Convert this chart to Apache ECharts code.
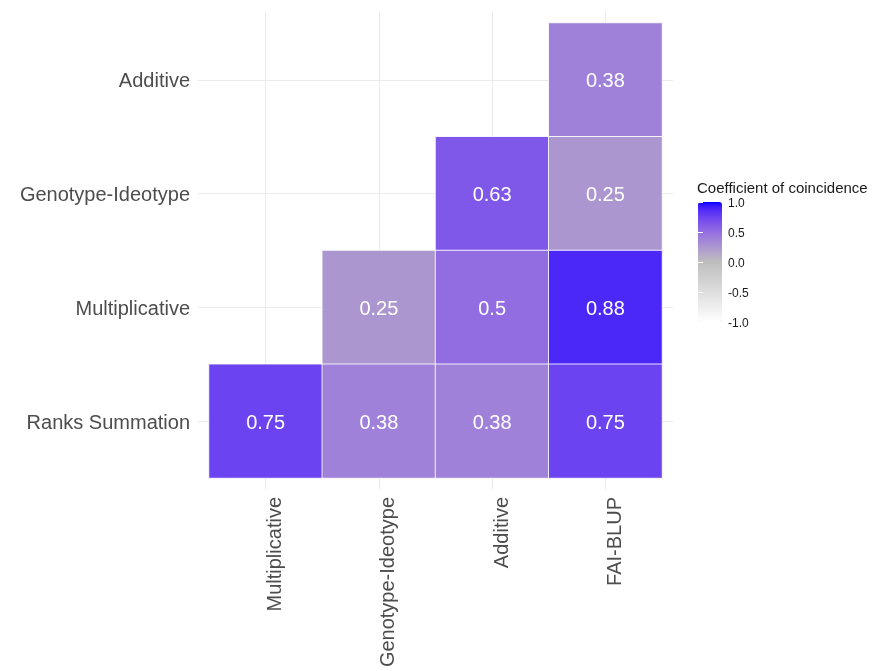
<!DOCTYPE html>
<html>
<head>
<meta charset="utf-8">
<title>Coefficient of coincidence</title>
<script src="https://cdn.jsdelivr.net/npm/echarts@6/dist/echarts.min.js"></script>
<style>
  html, body { margin: 0; padding: 0; background: #ffffff; }
  #chart { width: 882px; height: 671px; }
</style>
</head>
<body>
<div id="chart"></div>
<script>
// Selection indices compared pairwise
const colCategories = ['Multiplicative', 'Genotype-Ideotype', 'Additive', 'FAI-BLUP'];
const rowCategories = ['Additive', 'Genotype-Ideotype', 'Multiplicative', 'Ranks Summation']; // top to bottom

// Coefficient of coincidence, one list per row (null = lower triangle left empty)
const rowAdditive        = [null, null, null, 0.38];
const rowGenotypeIdeo    = [null, null, 0.63, 0.25];
const rowMultiplicative  = [null, 0.25, 0.5, 0.88];
const rowRanksSummation  = [0.75, 0.38, 0.38, 0.75];
const rowValues = [rowAdditive, rowGenotypeIdeo, rowMultiplicative, rowRanksSummation];

// Colour-bar breaks
const legendBreaks = [-1, -0.5, 0, 0.5, 1];

// Build heatmap triples [colIndex, rowIndex, value]
const heatData = [];
rowValues.forEach((row, r) => {
  row.forEach((v, c) => {
    if (v !== null) heatData.push([c, r, v]);
  });
});

// Diverging palette white -> grey -> blue, interpolated in CIE Lab
function hexToRgb(h) { h = h.replace('#', ''); return [0, 2, 4].map(i => parseInt(h.substr(i, 2), 16)); }
function srgbToLin(c) { c /= 255; return c <= 0.04045 ? c / 12.92 : Math.pow((c + 0.055) / 1.055, 2.4); }
function linToSrgb(c) { c = c <= 0.0031308 ? 12.92 * c : 1.055 * Math.pow(c, 1 / 2.4) - 0.055; return Math.round(Math.min(1, Math.max(0, c)) * 255); }
const WP = [0.95047, 1, 1.08883];
function rgbToLab(rgb) {
  const [r, g, b] = rgb.map(srgbToLin);
  const x = (0.4124 * r + 0.3576 * g + 0.1805 * b) / WP[0];
  const y = (0.2126 * r + 0.7152 * g + 0.0722 * b) / WP[1];
  const z = (0.0193 * r + 0.1192 * g + 0.9505 * b) / WP[2];
  const f = t => t > 0.008856 ? Math.cbrt(t) : 7.787 * t + 16 / 116;
  const fx = f(x), fy = f(y), fz = f(z);
  return [116 * fy - 16, 500 * (fx - fy), 200 * (fy - fz)];
}
function labToHex(lab) {
  const fy = (lab[0] + 16) / 116, fx = fy + lab[1] / 500, fz = fy - lab[2] / 200;
  const fi = t => t * t * t > 0.008856 ? t * t * t : (t - 16 / 116) / 7.787;
  const x = fi(fx) * WP[0], y = fi(fy) * WP[1], z = fi(fz) * WP[2];
  const r = 3.2406 * x - 1.5372 * y - 0.4986 * z;
  const g = -0.9689 * x + 1.8758 * y + 0.0415 * z;
  const b = 0.0557 * x - 0.2040 * y + 1.0570 * z;
  return '#' + [r, g, b].map(linToSrgb).map(v => v.toString(16).padStart(2, '0')).join('');
}
function divergingStops(low, mid, high, n) {
  const L = rgbToLab(hexToRgb(low)), M = rgbToLab(hexToRgb(mid)), H = rgbToLab(hexToRgb(high));
  const out = [];
  for (let i = 0; i <= n; i++) {
    const t = -1 + 2 * i / n;
    const a = t < 0 ? L : M, b = t < 0 ? M : H, u = t < 0 ? t + 1 : t;
    out.push(labToHex([0, 1, 2].map(k => a[k] + (b[k] - a[k]) * u)));
  }
  return out;
}
const palette = divergingStops('#ffffff', '#bebebe', '#0000ff', 40);

// Layout of the tile area and its padded panel
const tileLeft = 209, tileTop = 23, tileWidth = 453, tileHeight = 455;
const padX = tileWidth / colCategories.length * 0.1;
const padY = tileHeight / rowCategories.length * 0.1;
const barLeft = 698, barTop = 202, barWidth = 24, barHeight = 120;

const FONT = "'Liberation Sans', Arial, sans-serif";
const AXIS_TEXT = '#4d4d4d';
const GRID_LINE = '#ebebeb';

const chart = echarts.init(document.getElementById('chart'), null, { renderer: 'canvas' });

chart.setOption({
  backgroundColor: '#ffffff',
  animation: false,
  textStyle: { fontFamily: FONT },
  title: {
    text: 'Coefficient of coincidence',
    left: barLeft - 1,
    top: 181,
    padding: 0,
    textStyle: { fontSize: 15, fontWeight: 'normal', color: '#1a1a1a', fontFamily: FONT }
  },
  grid: [
    // tiles
    { left: tileLeft, top: tileTop, width: tileWidth, height: tileHeight, containLabel: false },
    // panel background with grid lines at category centres
    { left: tileLeft - padX, top: tileTop - padY, width: tileWidth + 2 * padX, height: tileHeight + 2 * padY, containLabel: false },
    // colour-bar scale
    { left: barLeft, top: barTop, width: barWidth, height: barHeight, containLabel: false }
  ],
  xAxis: [
    {
      gridIndex: 0, type: 'category', data: colCategories, position: 'bottom',
      axisLine: { show: false }, axisTick: { show: false }, splitLine: { show: false },
      axisLabel: { rotate: 90, margin: 19, fontSize: 20, color: AXIS_TEXT, fontFamily: FONT, verticalAlign: 'top' }
    },
    {
      gridIndex: 1, type: 'value', min: 0.4, max: 4.6, splitNumber: 4,
      axisLine: { show: false }, axisTick: { show: false }, axisLabel: { show: false },
      splitLine: { show: true, showMinLine: false, showMaxLine: false, lineStyle: { color: GRID_LINE, width: 1 } }
    },
    { gridIndex: 2, type: 'value', min: 0, max: 1, show: false }
  ],
  yAxis: [
    {
      gridIndex: 0, type: 'category', data: rowCategories, inverse: true,
      axisLine: { show: false }, axisTick: { show: false }, splitLine: { show: false },
      axisLabel: {
        margin: 19, fontSize: 20, color: AXIS_TEXT, fontFamily: FONT,
        formatter: v => '{t|' + v + '}',
        rich: { t: { fontSize: 20, color: AXIS_TEXT, fontFamily: FONT, padding: [4, 0, 0, 0] } }
      }
    },
    {
      gridIndex: 1, type: 'value', min: 0.4, max: 4.6, splitNumber: 4, inverse: true,
      axisLine: { show: false }, axisTick: { show: false }, axisLabel: { show: false },
      splitLine: { show: true, showMinLine: false, showMaxLine: false, lineStyle: { color: GRID_LINE, width: 1 } }
    },
    {
      gridIndex: 2, type: 'value', min: legendBreaks[0], max: legendBreaks[legendBreaks.length - 1],
      interval: 0.5, position: 'right', z: 10,
      axisLine: { show: false }, splitLine: { show: false },
      axisTick: { show: true, inside: true, length: 5, lineStyle: { color: '#ffffff', width: 1 } },
      axisLabel: {
        margin: 6, fontSize: 12, color: '#1a1a1a', fontFamily: FONT,
        formatter: v => '{t|' + v.toFixed(1) + '}',
        rich: { t: { fontSize: 12, color: '#1a1a1a', fontFamily: FONT, padding: [4, 0, 0, 0] } }
      }
    },
    {
      gridIndex: 2, type: 'value', min: legendBreaks[0], max: legendBreaks[legendBreaks.length - 1],
      interval: 0.5, position: 'left', z: 10,
      axisLine: { show: false }, splitLine: { show: false }, axisLabel: { show: false },
      axisTick: { show: true, inside: true, length: 5, lineStyle: { color: '#ffffff', width: 1 } }
    }
  ],
  visualMap: {
    type: 'continuous',
    seriesIndex: 0,
    min: -1, max: 1,
    calculable: false,
    orient: 'vertical',
    left: barLeft, top: barTop,
    padding: 0,
    itemWidth: barWidth, itemHeight: barHeight,
    text: ['', ''],
    showLabel: false,
    inRange: { color: palette }
  },
  series: [
    {
      type: 'heatmap',
      xAxisIndex: 0, yAxisIndex: 0,
      data: heatData,
      itemStyle: { borderColor: 'rgba(255,255,255,0.85)', borderWidth: 1 },
      label: {
        show: true, color: '#ffffff', fontSize: 20, fontFamily: FONT, offset: [0, 2],
        formatter: p => String(p.value[2])
      },
      emphasis: { disabled: true }
    }
  ]
});
</script>
</body>
</html>
